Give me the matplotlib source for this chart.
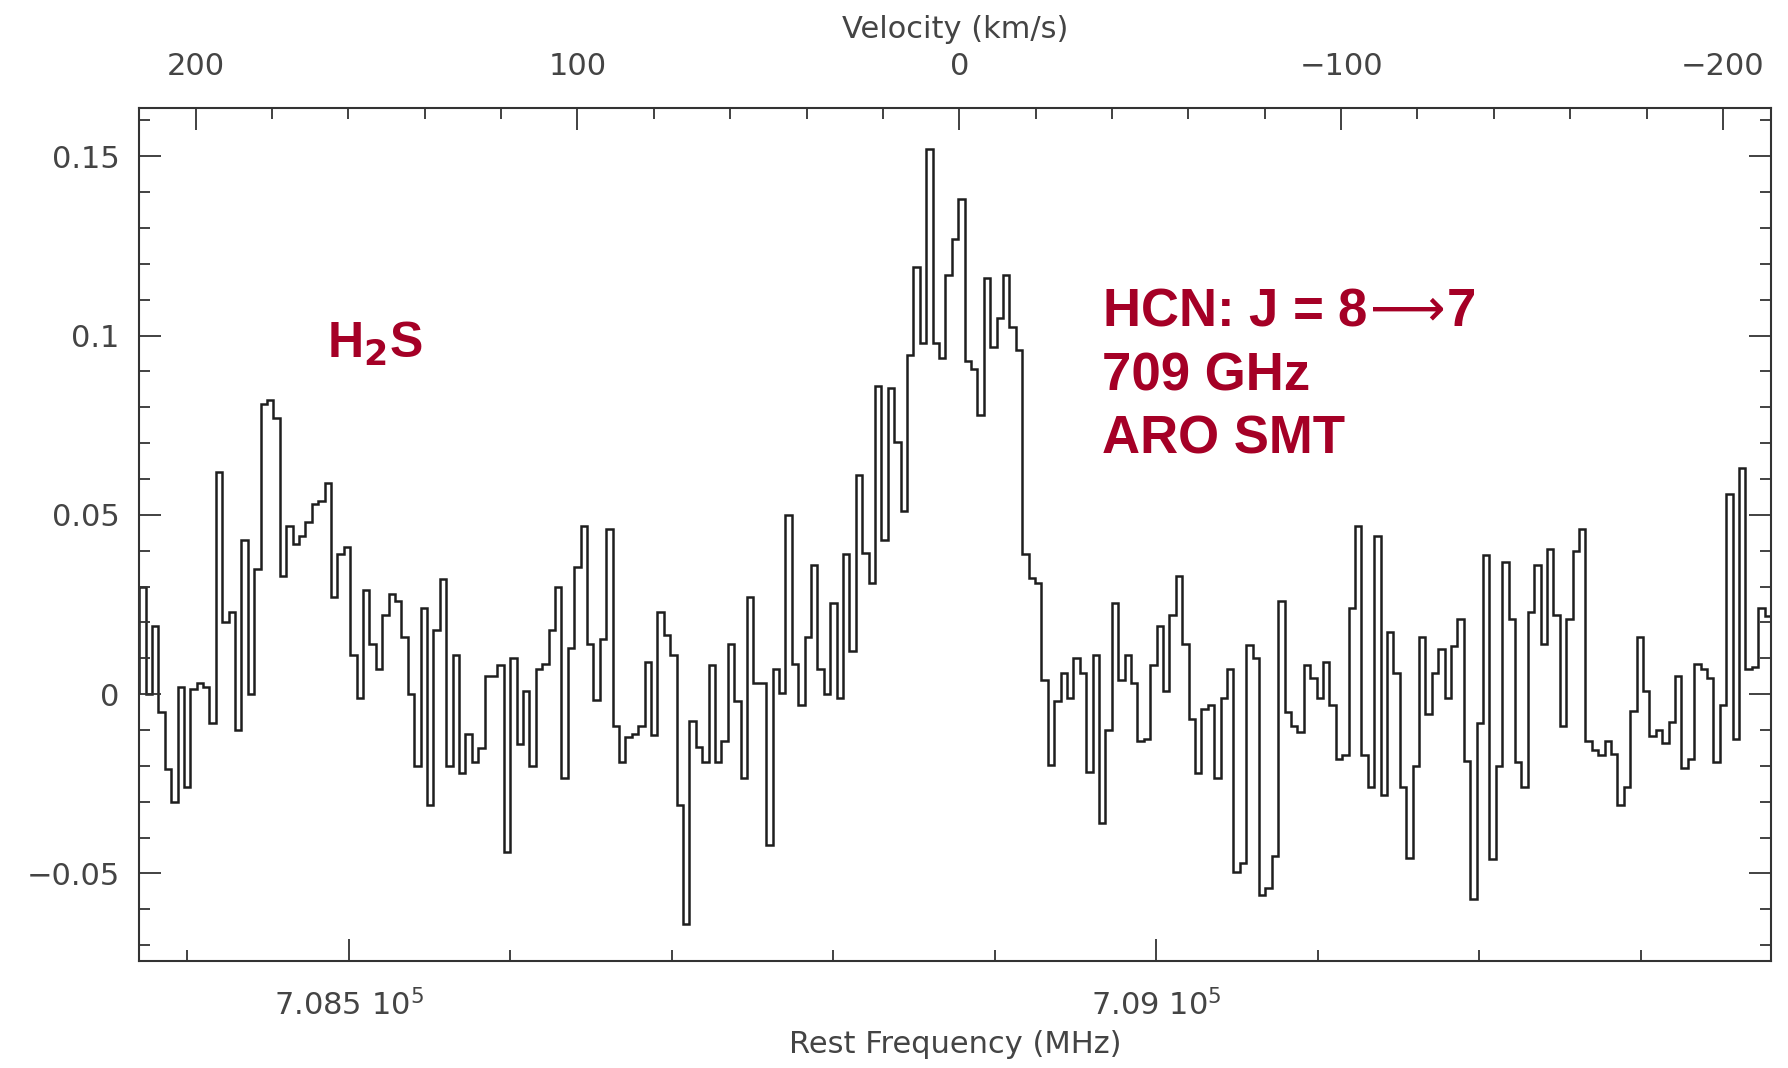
import numpy as np
import matplotlib
matplotlib.use("Agg")
import matplotlib.pyplot as plt
from matplotlib.ticker import MultipleLocator, FixedLocator, FixedFormatter

# spectrum: HCN J=8-7 towards IRC+10216 style plot (antenna temp vs rest freq)
chan_start = 708370.1      # MHz, left edge of first channel
chan_width = 3.963         # MHz
rest_freq = 708878.0       # MHz, zero of the velocity axis
c_kms = 299792.458

intensity = [
    0.030, 0.000, 0.019, -0.005, -0.021, -0.030, 0.002, -0.026, 0.0015, 0.003,
    0.002, -0.008, 0.062, 0.020, 0.023, -0.010, 0.043, 0.000, 0.035, 0.081,
    0.082, 0.077, 0.033, 0.047, 0.042, 0.044, 0.048, 0.053, 0.054, 0.059,
    0.027, 0.039, 0.041, 0.011, -0.001, 0.029, 0.014, 0.007, 0.022, 0.028,
    0.026, 0.016, 0.000, -0.020, 0.024, -0.031,
    0.018, 0.032, -0.020, 0.011, -0.022, -0.011, -0.019, -0.015, 0.005, 0.005,
    0.008, -0.044, 0.010, -0.014, 0.001, -0.020, 0.007, 0.0085, 0.018, 0.030,
    -0.0235, 0.013, 0.0356, 0.047, 0.014, -0.0015, 0.0155, 0.046, -0.009, -0.019,
    -0.012, -0.011, -0.009, 0.009, -0.0115, 0.023, 0.0166, 0.011, -0.031, -0.064,
    -0.0074, -0.0147, -0.019, 0.008,
    -0.019, -0.013, 0.014, -0.002, -0.0235, 0.027, 0.003, 0.003, -0.042, 0.007,
    0.0003, 0.050, 0.0085, -0.003, 0.016, 0.036, 0.007, 0.0, 0.0255, -0.001,
    0.039, 0.012, 0.061, 0.0395, 0.031, 0.086, 0.043, 0.0855, 0.0704, 0.051,
    0.0947, 0.119, 0.098, 0.152, 0.098, 0.0937, 0.117, 0.127, 0.138, 0.093,
    0.0906, 0.078, 0.116, 0.0967, 0.105,
    0.117, 0.1025, 0.096, 0.039, 0.0325, 0.031, 0.004, -0.0197, -0.002, 0.006,
    -0.001, 0.010, 0.006, -0.0217, 0.011, -0.036, -0.010, 0.0255, 0.004, 0.011,
    0.003, -0.013, -0.0124, 0.008, 0.019, 0.001, 0.022, 0.033, 0.014, -0.007,
    -0.022, -0.004, -0.003, -0.0235, -0.001, 0.007, -0.0495, -0.047, 0.0136, 0.010,
    -0.056, -0.054, -0.045, 0.026, -0.005,
    -0.009, -0.0105, 0.008, 0.0046, -0.001, 0.009, -0.003, -0.018, -0.017, 0.024,
    0.047, -0.017, -0.026, 0.044, -0.028, 0.0173, 0.006, -0.026, -0.0457, -0.020,
    0.016, -0.0054, 0.006, 0.0127, -0.001, 0.0135, 0.021, -0.0186, -0.057, -0.008,
    0.0387, -0.046, -0.020, 0.037, 0.021, -0.019, -0.026, 0.023, 0.036, 0.014,
    0.0405, 0.022, -0.009, 0.021, 0.040, 0.046,
    -0.013, -0.0155, -0.017, -0.013, -0.0166, -0.031, -0.026, -0.0046, 0.016, 0.001,
    -0.0116, -0.010, -0.0135, -0.0077, 0.005, -0.0206, -0.018, 0.0085, 0.007, 0.0046,
    -0.019, -0.003, 0.0557, -0.0124, 0.063, 0.007, 0.0077, 0.024, 0.0217,
]

freq_ticks = [708500, 709000]
freq_labels = ["7.085 10$^5$", "7.09 10$^5$"]
vel_ticks = [200, 100, 0, -100, -200]
y_ticks = [-0.05, 0, 0.05, 0.1, 0.15]
y_labels = ["\u22120.05", "0", "0.05", "0.1", "0.15"]

xlim = (708370.1, 709380.6)
ylim = (-0.0745, 0.1634)

red = "#a50026"
grey = "#444444"

edges = chan_start + chan_width * np.arange(len(intensity) + 1)

fig = plt.figure(figsize=(17.88, 10.68), dpi=100)
ax = fig.add_axes([0.0778, 0.0999, 0.9126, 0.7987])

ax.stairs(intensity, edges, color="#1e1e1e", lw=1.8)

ax.set_xlim(*xlim)
ax.set_ylim(*ylim)

for s in ax.spines.values():
    s.set_linewidth(1.5)
    s.set_color("#333333")

ax.xaxis.set_major_locator(FixedLocator(freq_ticks))
ax.xaxis.set_major_formatter(FixedFormatter(freq_labels))
ax.xaxis.set_minor_locator(MultipleLocator(100))
ax.yaxis.set_major_locator(FixedLocator(y_ticks))
ax.yaxis.set_major_formatter(FixedFormatter(y_labels))
ax.yaxis.set_minor_locator(MultipleLocator(0.01))

ax.tick_params(which="both", direction="in", top=False, right=True,
               color="#333333", width=1.3, labelcolor=grey, labelsize=22)
ax.tick_params(which="major", length=16)
ax.tick_params(which="minor", length=8)
ax.tick_params(axis="y", pad=14)
ax.tick_params(axis="x", pad=20)

ax.set_xlabel("Rest Frequency (MHz)", fontsize=22, color=grey, labelpad=6)


def f2v(f):
    return c_kms * (rest_freq - f) / rest_freq


def v2f(v):
    return rest_freq * (1 - v / c_kms)


top = ax.secondary_xaxis("top", functions=(f2v, v2f))
top.xaxis.set_major_locator(FixedLocator(vel_ticks))
top.xaxis.set_minor_locator(MultipleLocator(20))
top.tick_params(which="both", direction="in", color="#333333", width=1.3,
                labelcolor=grey, labelsize=22, pad=20)
top.tick_params(which="major", length=16)
top.tick_params(which="minor", length=8)
top.spines["top"].set_visible(False)
top.set_xlabel("Velocity (km/s)", fontsize=22, color=grey, labelpad=10)

txt_font = ["Liberation Sans", "DejaVu Sans"]
ax.text(708486.5, 0.0937, r"H$_\mathbf{2}$S", color=red, fontsize=36,
        fontweight="bold", family=txt_font, va="baseline")
ax.text(708966.4, 0.1029, r"HCN: J = 8$\!\longrightarrow\!$7",
        color=red, fontsize=38, fontweight="bold", family=txt_font,
        va="baseline")
ax.text(708966.4, 0.0848, "709 GHz", color=red, fontsize=38,
        fontweight="bold", family=txt_font, va="baseline")
ax.text(708966.4, 0.0672, "ARO SMT", color=red, fontsize=38,
        fontweight="bold", family=txt_font, va="baseline")

fig.savefig("out.png", dpi=100)
